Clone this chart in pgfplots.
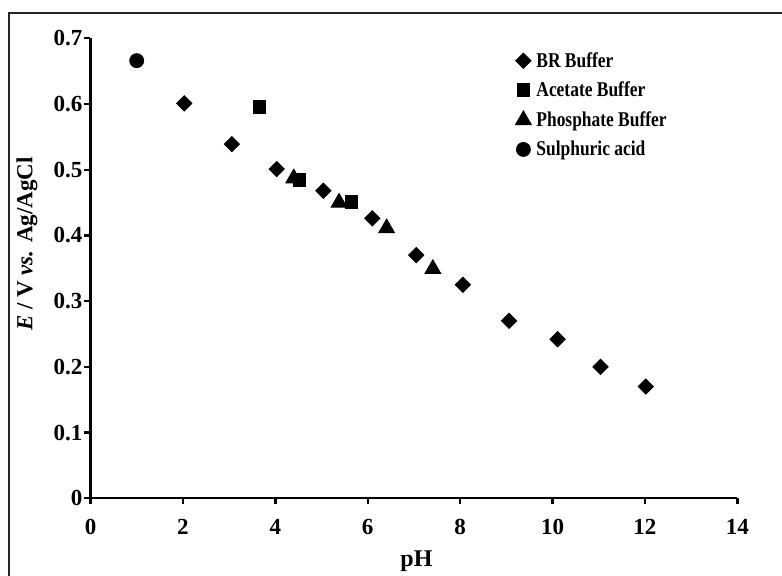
\documentclass[border=0pt]{standalone}
\usepackage{fontspec}
\setmainfont{Liberation Serif}
\newfontfamily\legendfont[FakeStretch=0.83]{Liberation Serif}
\usepackage{pgfplots}
\pgfplotsset{compat=1.18}
\begin{document}
\begin{tikzpicture}
\useasboundingbox (0,0) rectangle (391pt,-288pt);
% outer frame (right and bottom edges fall outside the page, as in the source)
\draw[line width=1pt, black!85] (4.5pt,-6.5pt) rectangle (400pt,-300pt);
\begin{axis}[
  at={(45.25pt,-249.15pt)}, anchor=south west,
  scale only axis, width=323.4pt, height=230pt,
  xmin=0, xmax=14, ymin=0, ymax=0.7,
  axis x line=bottom, axis y line=left,
  axis line style={-, line width=1.2pt},
  xtick={0,2,4,6,8,10,12,14},
  ytick={0,0.1,0.2,0.3,0.4,0.5,0.6,0.7},
  tick align=outside, major tick length=3pt,
  tick style={line width=1.2pt, black},
  /pgf/number format/assume math mode=true,
  /pgf/number format/fixed,
  ticklabel style={font=\bfseries\fontsize{11.5}{13}\selectfont},
  xticklabel style={yshift=-4pt},
  yticklabel style={xshift=2.5pt},
  xlabel={\textbf{pH}},
  ylabel={\textbf{\textit{E} / V \textit{vs.} Ag/AgCl}},
  xlabel style={font=\fontsize{12}{13}\selectfont, at={(axis description cs:0.504,-0.1487)}, anchor=base},
  ylabel style={font=\fontsize{11.5}{13}\selectfont, at={(axis description cs:-0.09,0.553)}, anchor=base},
  legend cell align=left,
  legend style={draw=none, fill=none, at={(axis cs:9.167,0.6797)}, anchor=north west,
    inner sep=0pt, row sep=0pt, column sep=0pt,
    font=\legendfont\bfseries\fontsize{10.5}{12}\selectfont,
    nodes={inner xsep=2pt, inner ysep=0pt, text height=7.5pt, text depth=7.2pt, anchor=west}},
  legend image code/.code={\path[draw=none, fill=none] (-4.5pt,-3pt) rectangle (4.5pt,3pt);
    \draw[#1] plot coordinates {(0pt,3pt)};},
]
% phosphate point at pH 4.4, drawn first so the acetate square covers it
\addplot[only marks, mark=triangle*, mark size=4.6pt, black, forget plot]
  coordinates {(4.40,0.487)};
\addplot[only marks, mark=square*, mark size=2.7pt, mark options={rotate=45}, black]
  coordinates {(2.03,0.601) (3.06,0.539) (4.03,0.501) (5.04,0.468) (6.10,0.426)
               (7.05,0.370) (8.06,0.325) (9.06,0.270) (10.11,0.242) (11.04,0.200) (12.02,0.170)};
\addplot[only marks, mark=square*, mark size=3.3pt, mark options={xscale=0.88}, black]
  coordinates {(3.65,0.596) (4.52,0.485) (5.65,0.451)};
\addplot[only marks, mark=triangle*, mark size=4.6pt, black]
  coordinates {(5.38,0.450) (6.41,0.411) (7.41,0.349)};
\addplot[only marks, mark=*, mark size=3.5pt, black]
  coordinates {(1.00,0.666)};
\legend{BR Buffer, Acetate Buffer, Phosphate Buffer, Sulphuric acid}
\end{axis}
\end{tikzpicture}
\end{document}
